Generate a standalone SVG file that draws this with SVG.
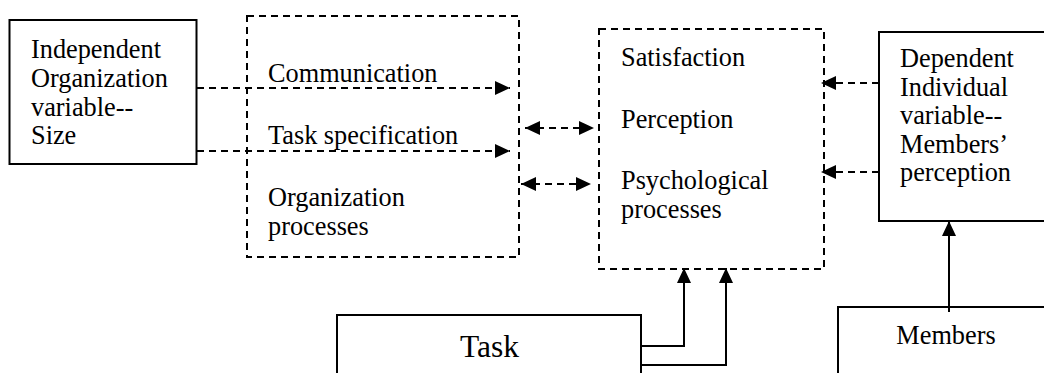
<svg xmlns="http://www.w3.org/2000/svg" width="1044" height="373" viewBox="0 0 1044 373">
<style>
.t{font-family:"Liberation Serif","Times New Roman",serif;font-size:26.3px;fill:#000}
.big{font-size:31.5px}
.solid{fill:#fff;stroke:#000;stroke-width:2}
.dash{fill:#fff;stroke:#000;stroke-width:2;stroke-dasharray:7 5}
.c{fill:none;stroke:#000;stroke-width:2}
.cd{fill:none;stroke:#000;stroke-width:2;stroke-dasharray:7 5}
</style>
<defs>
<marker id="ah" markerUnits="userSpaceOnUse" markerWidth="15" markerHeight="15" refX="15" refY="7.5" orient="auto-start-reverse" viewBox="0 0 15 15">
<path d="M0,0.5 L15,7.5 L0,14.5 z" fill="#000"/>
</marker>
</defs>
<rect width="1044" height="373" fill="#fff"/>
<g id="independent">
<rect class="solid" x="9.5" y="20" width="187" height="144"/>
<text class="t" x="31" y="58">Independent</text>
<text class="t" x="31" y="87">Organization</text>
<text class="t" x="31" y="115.5">variable--</text>
<text class="t" x="31" y="144">Size</text>
</g>
<g id="organization-processes">
<rect class="dash" x="247" y="16" width="272" height="241"/>
<text class="t" x="268" y="82">Communication</text>
<text class="t" x="268" y="144">Task specification</text>
<text class="t" x="268" y="206">Organization</text>
<text class="t" x="268" y="235">processes</text>
</g>
<g id="psychological-processes">
<rect class="dash" x="599" y="29" width="225" height="240"/>
<text class="t" x="621" y="66">Satisfaction</text>
<text class="t" x="621" y="128">Perception</text>
<text class="t" x="621" y="189">Psychological</text>
<text class="t" x="621" y="218">processes</text>
</g>
<g id="dependent">
<rect class="solid" x="879" y="32" width="170" height="189"/>
<text class="t" x="900" y="67">Dependent</text>
<text class="t" x="900" y="95.5">Individual</text>
<text class="t" x="900" y="124">variable--</text>
<text class="t" x="900" y="152.5">Members’</text>
<text class="t" x="900" y="181">perception</text>
</g>
<g id="task">
<rect class="solid" x="337" y="315" width="304" height="70"/>
<text class="t big" x="489.5" y="357" text-anchor="middle">Task</text>
</g>
<g id="members">
<rect class="solid" x="838" y="307" width="215" height="80"/>
<text class="t" x="946" y="344" text-anchor="middle">Members</text>
</g>
<g id="connectors">
<path class="cd" d="M197,88 H510" marker-end="url(#ah)"/>
<path class="cd" d="M197,151 H510" marker-end="url(#ah)"/>
<path class="cd" d="M525,128 H594" marker-start="url(#ah)" marker-end="url(#ah)"/>
<path class="cd" d="M521,184 H591" marker-start="url(#ah)" marker-end="url(#ah)"/>
<path class="cd" d="M879,83 H821" marker-end="url(#ah)"/>
<path class="cd" d="M879,172 H821" marker-end="url(#ah)"/>
<path class="c" d="M949,312 V221" marker-end="url(#ah)"/>
<path class="c" d="M641,346 H684 V268" marker-end="url(#ah)"/>
<path class="c" d="M641,365 H726 V268" marker-end="url(#ah)"/>
</g>
</svg>
